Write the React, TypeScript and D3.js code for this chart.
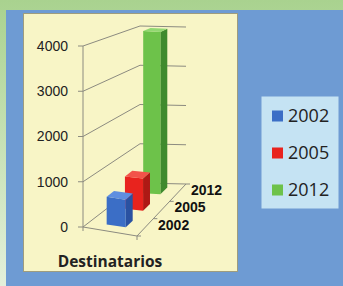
import * as d3 from "d3";

const years = ["2002", "2005", "2012"];
const values = [620, 760, 4000];
const yTicks = [0, 1000, 2000, 3000, 4000];
const category = "Destinatarios";

const front = { "2002": "#3b6ec6", "2005": "#e8231e", "2012": "#6dc24a" } as Record<string, string>;
const side = { "2002": "#2a52a2", "2005": "#ae1915", "2012": "#3f8a2e" } as Record<string, string>;
const top = { "2002": "#5f8fe0", "2005": "#f2534a", "2012": "#92d872" } as Record<string, string>;

export default function App() {
    const width = 343;
    const height = 286;

    // floor / walls projection (w across, d into depth, h value)
    const xLeft = d3.scaleLinear().domain([0, 1]).range([83, 140]);
    const xRight = d3.scaleLinear().domain([0, 1]).range([137, 186]);
    const yFront = d3.scaleLinear().domain([0, 4000]).range([227, 46]);
    const yBack = d3.scaleLinear().domain([0, 4000]).range([183, 26]);
    const slantFront = 9;
    const slantBack = 1;

    const depth = d3.scaleBand().domain(years).range([0.01, 1.03]).paddingInner(0.6).paddingOuter(0.32);

    const p = (w: number, d: number, h: number): [number, number] => {
        const xl = xLeft(d);
        const xr = xRight(d);
        const x = xl + w * (xr - xl);
        const y = (1 - d) * (yFront(h) + slantFront * w) + d * (yBack(h) + slantBack * w);
        return [x, y];
    };
    const poly = (pts: [number, number][]) => pts.map((q) => q.join(",")).join(" ");
    const line = (a: [number, number], b: [number, number], key: string, stroke = "#8c8b80") => (
        <line key={key} x1={a[0]} y1={a[1]} x2={b[0]} y2={b[1]} stroke={stroke} strokeWidth={1} />
    );

    const w0 = 0.32;
    const w1 = 0.68;

    const bars = years
        .map((yr, i) => ({ yr, v: values[i], d0: depth(yr)!, d1: depth(yr)! + depth.bandwidth() }))
        .reverse();

    return (
        <svg width={width} height={height} style={{ position: "fixed", left: 0, top: 0 }}>
            <defs>
                <linearGradient id="bg" x1="0" y1="0" x2="0" y2="1">
                    <stop offset="0" stopColor="#a9d28f" />
                    <stop offset="1" stopColor="#e3f0db" />
                </linearGradient>
            </defs>
            <rect x={0} y={0} width={width} height={height} fill="url(#bg)" />
            <rect x={6} y={10} width={width - 6} height={height - 10} fill="#6e9bd3" />
            <rect x={23.5} y={13.5} width={214} height={258} fill="#f8f5c6" stroke="#9e9c7e" />

            {/* back wall and side wall gridlines */}
            {yTicks.filter((t) => t > 0).map((t) => (
                <g key={t}>
                    {line(p(0, 0, t), p(0, 1, t), "l" + t)}
                    {line(p(0, 1, t), p(1, 1, t), "b" + t)}
                </g>
            ))}

            {/* floor */}
            {line(p(0, 0, 0), p(0, 1, 0), "fl")}
            {line(p(0, 1, 0), p(1, 1, 0), "fb")}
            {line(p(0, 0, 0), p(1, 0, 0), "ff")}
            {line(p(1, 0, 0), p(1, 1, 0), "fr")}

            {/* y axis */}
            {line(p(0, 0, 0), p(0, 0, 4000), "ya")}
            {yTicks.map((t) => {
                const [x, y] = p(0, 0, t);
                return (
                    <g key={"t" + t}>
                        <line x1={x - 5} y1={y} x2={x} y2={y} stroke="#8c8b80" />
                        <text x={68} y={y} dy="0.35em" textAnchor="end" fontFamily="Liberation Sans, Arial, sans-serif" fontSize={14} fill="#222">
                            {t}
                        </text>
                    </g>
                );
            })}

            {/* front edge ticks */}
            {[0, 1].map((w) => {
                const [x, y] = p(w, 0, 0);
                return <line key={"ft" + w} x1={x} y1={y} x2={x} y2={y + 4} stroke="#8c8b80" />;
            })}

            {/* depth ticks */}
            {d3.range(4).map((i) => {
                const [x, y] = p(1, i / 3, 0);
                return <line key={"dt" + i} x1={x} y1={y} x2={x + 4} y2={y} stroke="#8c8b80" />;
            })}

            {/* bars back to front */}
            {bars.map(({ yr, v, d0, d1 }) => (
                <g key={yr}>
                    <polygon points={poly([p(w1, d0, 0), p(w1, d1, 0), p(w1, d1, v), p(w1, d0, v)])} fill={side[yr]} />
                    <polygon points={poly([p(w0, d0, 0), p(w1, d0, 0), p(w1, d0, v), p(w0, d0, v)])} fill={front[yr]} />
                    <polygon points={poly([p(w0, d0, v), p(w1, d0, v), p(w1, d1, v), p(w0, d1, v)])} fill={top[yr]} />
                </g>
            ))}

            {/* depth labels */}
            {years.map((yr) => {
                const [x, y] = p(1, depth(yr)! + depth.bandwidth() / 2, 0);
                return (
                    <text key={"dl" + yr} x={x + 12} y={y - 1.5} dy="0.35em" fontFamily="Liberation Sans, Arial, sans-serif" fontWeight="bold" fontSize={14} fill="#111">
                        {yr}
                    </text>
                );
            })}

            <text x={110} y={262} dy="0.35em" textAnchor="middle" fontFamily="Open Sans, sans-serif" fontWeight="bold" fontSize={15.5} fill="#222">
                {category}
            </text>

            {/* legend */}
            <rect x={261.5} y={96.5} width={77} height={112} fill="#c5e3f3" />
            {years.map((yr, i) => {
                const cy = 116 + i * 37;
                return (
                    <g key={"lg" + yr}>
                        <rect x={272} y={cy - 5.5} width={11} height={11} fill={front[yr]} />
                        <text x={288} y={cy} dy="0.36em" fontFamily="Open Sans, sans-serif" fontSize={18} fill="#222">
                            {yr}
                        </text>
                    </g>
                );
            })}
        </svg>
    );
}
